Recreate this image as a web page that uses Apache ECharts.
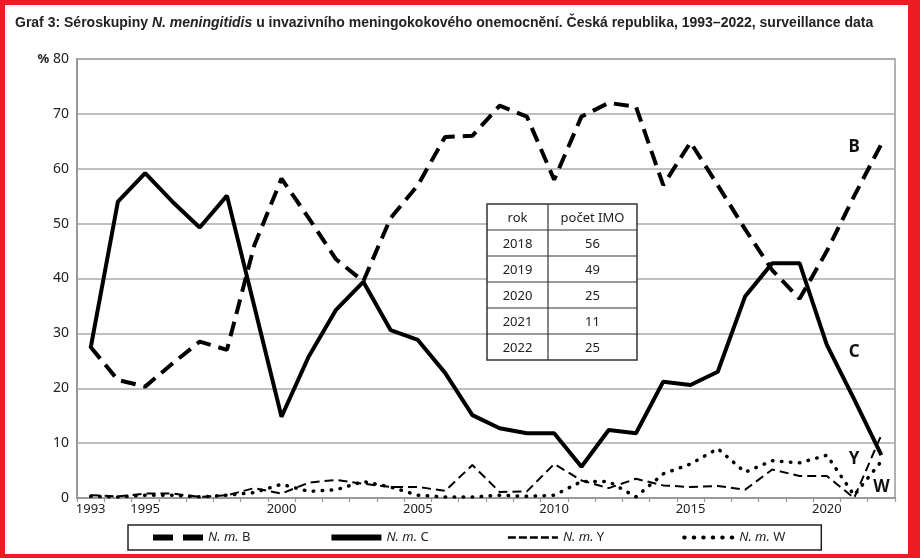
<!DOCTYPE html>
<html>
<head>
<meta charset="utf-8">
<script src="https://cdn.jsdelivr.net/npm/echarts@6/dist/echarts.min.js"></script>
<style>
  html, body { margin: 0; padding: 0; }
  #chart { width: 920px; height: 558px; }
</style>
</head>
<body>
<div id="chart"></div>
<script>
  const years = [];
  for (let y = 1993; y <= 2022; y++) years.push(String(y));

  // podíl séroskupin v %
  const serB = [27.5, 21.5, 20.3, 24.5, 28.5, 27, 46, 58.2, 51, 43.5, 39.5, 51, 57, 65.8, 66,
    71.5, 69.5, 58, 69.5, 72, 71.3, 57, 64.8, 57, 49, 41.5, 36.3, 45, 55, 64.5];
  const serC = [27.3, 54, 59.2, 54, 49.3, 55.1, 35, 14.8, 25.8, 34.3, 39.4, 30.6, 28.8, 22.8, 15.1,
    12.7, 11.8, 11.8, 5.7, 12.4, 11.8, 21.2, 20.6, 23, 36.7, 42.8, 42.8, 27.9, 18, 7.8];
  const serY = [0.5, 0.3, 0.8, 0.8, 0.2, 0.5, 1.8, 0.8, 2.8, 3.3, 2.6, 2.0, 2.0, 1.3, 6.0,
    1.1, 1.2, 6.2, 3.2, 1.8, 3.5, 2.3, 2.0, 2.2, 1.5, 5.2, 4.0, 4.0, 0, 11.5];
  const serW = [0.3, 0.2, 0.5, 0.5, 0.2, 0.5, 1.0, 2.5, 1.2, 1.5, 3.0, 2.0, 0.5, 0.2, 0.2,
    0.5, 0.3, 0.5, 3.0, 3.0, 0.2, 4.4, 6.2, 9.0, 4.7, 6.8, 6.4, 7.8, 0.5, 6.7];

  // popisky u konců křivek [rok, hodnota]
  const labelB = ["2021", 64];
  const labelC = ["2021", 26.5];
  const labelY = ["2021", 7];
  const labelW = ["2022", 2];

  const tableYears = ["2018", "2019", "2020", "2021", "2022"];
  const tableCounts = ["56", "49", "25", "11", "25"];

  const chart = echarts.init(document.getElementById("chart"));

  function endLabel(coord, text) {
    return {
      symbol: "circle",
      symbolSize: 0,
      data: [{ coord: coord, value: text }],
      label: {
        show: true,
        position: "inside",
        formatter: text,
        color: "#111",
        fontFamily: "Noto Sans",
        fontWeight: "bold",
        fontSize: 17,
      },
    };
  }

  // tabulka počtů IMO
  const tbl = [];
  const tx = 487, ty = 204, c1 = 61, c2 = 89, rh = 26;
  const rows = [["rok", "počet IMO"]].concat(tableYears.map((y, i) => [y, tableCounts[i]]));
  tbl.push({
    type: "rect",
    shape: { x: tx, y: ty, width: c1 + c2, height: rh * rows.length },
    style: { fill: "#fff", stroke: "#333", lineWidth: 1.5 },
    z: 100,
  });
  rows.forEach((r, i) => {
    if (i > 0) {
      tbl.push({
        type: "line",
        shape: { x1: tx, y1: ty + i * rh, x2: tx + c1 + c2, y2: ty + i * rh },
        style: { stroke: "#333", lineWidth: 1.2 },
        z: 101,
      });
    }
    [r[0], r[1]].forEach((t, j) => {
      tbl.push({
        type: "text",
        x: j === 0 ? tx + c1 / 2 : tx + c1 + c2 / 2,
        y: ty + i * rh + rh / 2 + 1,
        style: {
          text: t,
          align: "center",
          verticalAlign: "middle",
          fill: "#222",
          font: "13px 'Noto Sans'",
        },
        z: 102,
      });
    });
  });
  tbl.push({
    type: "line",
    shape: { x1: tx + c1, y1: ty, x2: tx + c1, y2: ty + rh * rows.length },
    style: { stroke: "#333", lineWidth: 1.2 },
    z: 101,
  });

  chart.setOption({
    backgroundColor: "#ed1c24",
    animation: false,
    graphic: [
      {
        type: "rect",
        shape: { x: 5, y: 5, width: 903, height: 549 },
        style: { fill: "#fff" },
        z: -10,
      },
    ].concat(tbl),
    title: {
      left: 10,
      top: 11,
      text: "{b|Graf 3: Séroskupiny }{bi|N. meningitidis}{b| u invazivního meningokokového onemocnění. Česká republika, 1993–2022, surveillance data}",
      textStyle: {
        rich: {
          b: { fontFamily: "Liberation Sans", fontWeight: "bold", fontSize: 14, color: "#222" },
          bi: { fontFamily: "Liberation Sans", fontWeight: "bold", fontStyle: "italic", fontSize: 14, color: "#222" },
        },
      },
    },
    legend: {
      left: 128,
      top: 525,
      padding: [6, 36, 6, 22],
      itemGap: 78,
      itemWidth: 50,
      itemHeight: 12,
      borderColor: "#222",
      borderWidth: 1.5,
      itemStyle: { opacity: 0 },
      data: [
        { name: "N. m. B", lineStyle: { color: "#000", width: 6, type: [20, 10] } },
        { name: "N. m. C", lineStyle: { color: "#000", width: 6 } },
        { name: "N. m. Y", lineStyle: { color: "#000", width: 2.5, type: [8, 3] } },
        { name: "N. m. W", lineStyle: { color: "#000", width: 4, type: [0.5, 9], cap: "round" } },
      ],
      formatter: (name) => "{i|N. m.} " + name.slice(6),
      textStyle: {
        fontFamily: "Noto Sans",
        fontSize: 13,
        color: "#222",
        rich: { i: { fontStyle: "italic", fontFamily: "Noto Sans", fontSize: 13, color: "#222" } },
      },
    },
    grid: {
      left: 77,
      right: 25,
      top: 59,
      bottom: 60,
      show: true,
      borderColor: "#999",
      borderWidth: 1.5,
    },
    xAxis: {
      type: "category",
      data: years,
      boundaryGap: true,
      axisLine: { lineStyle: { color: "#999", width: 2 } },
      axisTick: { show: true, length: 4, lineStyle: { color: "#999", width: 1.2 } },
      axisLabel: {
        interval: 0,
        formatter: (v) => (v === "1993" || Number(v) % 5 === 0 ? v : ""),
        color: "#222",
        fontFamily: "Noto Sans",
        fontSize: 13,
        margin: 5,
      },
      splitLine: { show: false },
    },
    yAxis: {
      type: "value",
      min: 0,
      max: 80,
      interval: 10,
      axisLine: { show: true, lineStyle: { color: "#999", width: 2 } },
      axisTick: { show: false },
      axisLabel: {
        formatter: (v) => (v === 80 ? "{p|%} 80" : String(v)),
        color: "#222",
        fontFamily: "Noto Sans",
        fontSize: 14,
        margin: 8,
        rich: { p: { fontWeight: "bold", fontSize: 13, color: "#222", fontFamily: "Noto Sans" } },
      },
      splitLine: { lineStyle: { color: "#aaa", width: 1.5 } },
    },
    series: [
      {
        name: "N. m. B",
        type: "line",
        data: serB,
        showSymbol: false,
        symbol: "none",
        lineStyle: { color: "#000", width: 4, type: [15, 8] },
        itemStyle: { color: "#000" },
        markPoint: endLabel(labelB, "B"),
        z: 5,
      },
      {
        name: "N. m. C",
        type: "line",
        data: serC,
        showSymbol: false,
        symbol: "none",
        lineStyle: { color: "#000", width: 4 },
        itemStyle: { color: "#000" },
        markPoint: endLabel(labelC, "C"),
        z: 5,
      },
      {
        name: "N. m. Y",
        type: "line",
        data: serY,
        showSymbol: false,
        symbol: "none",
        lineStyle: { color: "#000", width: 2, type: [9, 5] },
        itemStyle: { color: "#000" },
        markPoint: endLabel(labelY, "Y"),
        z: 4,
      },
      {
        name: "N. m. W",
        type: "line",
        data: serW,
        showSymbol: false,
        symbol: "none",
        lineStyle: { color: "#000", width: 3.5, type: [0.5, 8.5], cap: "round" },
        itemStyle: { color: "#000" },
        markPoint: endLabel(labelW, "W"),
        z: 4,
      },
    ],
  });
</script>
</body>
</html>
